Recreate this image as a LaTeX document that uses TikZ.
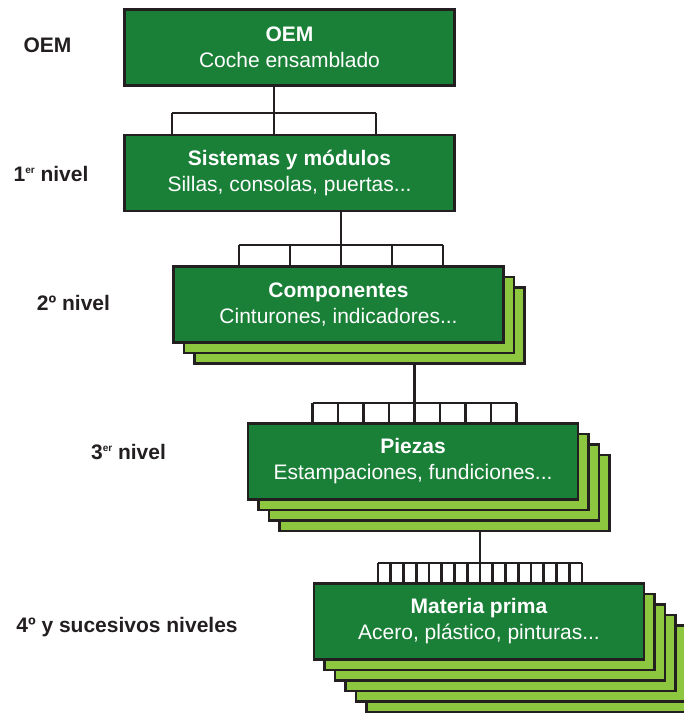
\documentclass[tikz,border=0pt]{standalone}
\usepackage{fontspec}
\setmainfont{Liberation Sans}
\usetikzlibrary{calc,backgrounds}

\definecolor{darkgreen}{RGB}{26,127,55}
\definecolor{lightgreen}{RGB}{141,198,63}
\definecolor{edge}{RGB}{35,31,32}

\newcommand{\ordsup}[1]{\raisebox{8pt}{\fontsize{10}{10}\selectfont #1}}

\tikzset{
  box/.style={draw=edge, line width=2.8pt, fill=darkgreen, text=white,
    minimum width=330pt, minimum height=76pt, outer sep=0pt,
    align=center, font=\fontsize{21}{26}\selectfont},
  backcard/.style={draw=edge, line width=2.8pt, fill=lightgreen},
  tier/.style={anchor=base, text=edge, font=\fontsize{21}{26}\selectfont\bfseries},
  link/.style={draw=edge, line width=2.8pt}
}

\begin{document}
\begin{tikzpicture}[x=1pt, y=-1pt]
\useasboundingbox (0,0) rectangle (684,713);

% tiers
\node[tier] (t0) at (47.5,52)  {OEM};
\node[tier] (t1) at (51,181)   {1\ordsup{er} nivel};
\node[tier] (t2) at (73.5,310) {2º nivel};
\node[tier] (t3) at (128.5,459) {3\ordsup{er} nivel};
\node[tier] (t4) at (127,632)  {4º y sucesivos niveles};

% boxes
\node[box] (oem)  at (289.5,47.5) {\textbf{OEM}\\Coche ensamblado};
\node[box] (sis)  at (289.5,173)  {\textbf{Sistemas y módulos}\\Sillas, consolas, puertas...};
\node[box] (comp) at (338.5,304.5) {\textbf{Componentes}\\Cinturones, indicadores...};
\node[box] (pie)  at (413,461.5)  {\textbf{Piezas}\\Estampaciones, fundiciones...};
\node[box] (mat)  at (479,621.5)  {\textbf{Materia prima}\\Acero, plástico, pinturas...};

% stacked copies
\begin{scope}[on background layer]
  \foreach \b/\m in {comp/2, pie/3, mat/5}
    \foreach \k in {\m,...,1}
      \draw[backcard] ($(\b.north west)+(\k*10.5,\k*10.5)$) rectangle ($(\b.south east)+(\k*10.5,\k*10.5)$);
\end{scope}

% buses
\coordinate (bus1) at (274,113);
\coordinate (bus2) at (341,245);
\coordinate (bus3) at (414.5,403);
\coordinate (bus4) at (480,563);

\draw[link] (bus1 |- oem.south) -- (bus1);
\draw[link] (bus2 |- sis.south) -- (bus2);
\draw[link] ($(bus3 |- comp.south)+(0,21)$) -- (bus3);
\draw[link] ($(bus4 |- pie.south)+(0,31.5)$) -- (bus4);

\foreach \bus/\n/\child in {bus1/1/sis, bus2/2/comp, bus3/4/pie, bus4/8/mat} {
  \draw[link] ($(\bus)+(-102,0)$) -- ($(\bus)+(102,0)$);
  \foreach \k in {-\n,...,\n}
    \draw[link] ($(\bus)+(\k*102/\n,0)$) -- ($(\bus |- \child.north)+(\k*102/\n,0)$);
}
\end{tikzpicture}
\end{document}
